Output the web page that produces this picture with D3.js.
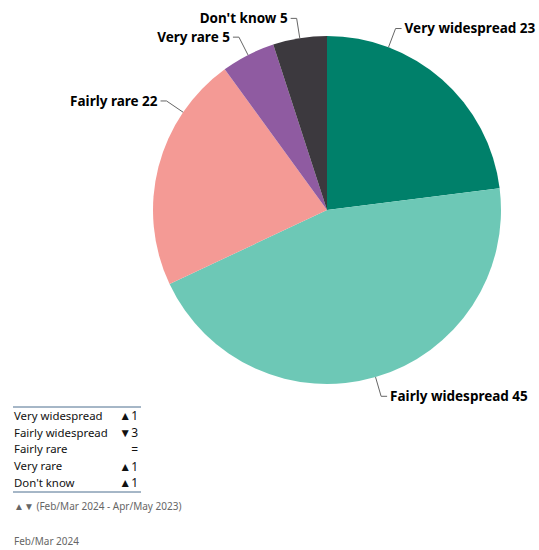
<!DOCTYPE html>
<html>
<head>
<meta charset="utf-8">
<script src="https://cdn.jsdelivr.net/npm/d3@7"></script>
<style>
  html, body { margin: 0; padding: 0; background: #fff; }
  svg { display: block; }
</style>
</head>
<body>
<svg id="chart" width="539" height="550"></svg>
<script>
// Survey answers, Feb/Mar 2024 (%)
const categories = ["Very widespread", "Fairly widespread", "Fairly rare", "Very rare", "Don't know"];
const values = [23, 45, 22, 5, 5];
// Change versus Apr/May 2023 (percentage points)
const changes = [1, -3, 0, 1, 1];
const colors = ["#00806a", "#6dc8b6", "#f49a95", "#8f5ba1", "#3c393e"];
// where along each slice its label connector touches the rim (0 = start, 1 = end)
const touchAt = [0.25, 0.5, 0.75, 0.5, 0.5];

const svg = d3.select("#chart");
const cx = 327, cy = 210, radius = 174;
const labelFont = "'Noto Sans', sans-serif";

const pie = d3.pie().sort(null).value(d => d.value);
const arcs = pie(categories.map((c, i) => ({ name: c, value: values[i], i })));
const arc = d3.arc().innerRadius(0).outerRadius(radius);

const g = svg.append("g").attr("transform", `translate(${cx},${cy})`);
g.selectAll("path.slice")
  .data(arcs)
  .join("path")
  .attr("class", "slice")
  .attr("d", arc)
  .attr("fill", d => colors[d.data.i]);

// polar helper: angle measured clockwise from 12 o'clock
const polar = (a, r) => [Math.sin(a) * r, -Math.cos(a) * r];

arcs.forEach(d => {
  const a = d.startAngle + (d.endAngle - d.startAngle) * touchAt[d.data.i];
  const p0 = polar(a, radius);
  const p1 = polar(a, radius + 20);
  const right = Math.sin(a) >= 0;
  const p2 = [p1[0] + (right ? 6 : -6), p1[1]];
  g.append("polyline")
    .attr("points", [p0, p1, p2].map(p => p.join(",")).join(" "))
    .attr("fill", "none")
    .attr("stroke", "#666")
    .attr("stroke-width", 1);
  g.append("text")
    .attr("x", p2[0] + (right ? 3 : -3))
    .attr("y", p2[1])
    .attr("dy", "0.35em")
    .attr("text-anchor", right ? "start" : "end")
    .attr("font-family", labelFont)
    .attr("font-weight", "bold")
    .attr("font-size", 13.5)
    .attr("fill", "#000")
    .text(`${d.data.name} ${d.data.value}`);
});

// change table
const tbl = svg.append("g").attr("transform", "translate(13,407)");
const rowH = 16.8;
const tableW = 128;
tbl.append("line").attr("x1", 0).attr("x2", tableW).attr("y1", 0).attr("y2", 0)
  .attr("stroke", "#4d6f8f").attr("stroke-width", 1);
tbl.append("line").attr("x1", 0).attr("x2", tableW)
  .attr("y1", rowH * categories.length + 1).attr("y2", rowH * categories.length + 1)
  .attr("stroke", "#4d6f8f").attr("stroke-width", 1);

const fmtChange = v => v > 0 ? "\u25B2" + v : v < 0 ? "\u25BC" + (-v) : "=";
categories.forEach((c, i) => {
  const y = rowH * i + rowH / 2 + 0.5;
  tbl.append("text")
    .attr("x", 1).attr("y", y).attr("dy", "0.35em")
    .attr("font-family", labelFont).attr("font-size", 11.4).attr("fill", "#111")
    .text(c);
  tbl.append("text")
    .attr("x", tableW - 3).attr("y", y).attr("dy", "0.35em")
    .attr("text-anchor", "end")
    .attr("font-family", labelFont).attr("font-size", 12).attr("fill", "#111")
    .text(fmtChange(changes[i]));
});

svg.append("text")
  .attr("x", 14).attr("y", 506).attr("dy", "0.35em")
  .attr("font-family", labelFont).attr("font-size", 10).attr("fill", "#666")
  .text("\u25B2\u25BC (Feb/Mar 2024 - Apr/May 2023)");

svg.append("text")
  .attr("x", 14).attr("y", 541).attr("dy", "0.35em")
  .attr("font-family", labelFont).attr("font-size", 10).attr("fill", "#666")
  .text("Feb/Mar 2024");
</script>
</body>
</html>
